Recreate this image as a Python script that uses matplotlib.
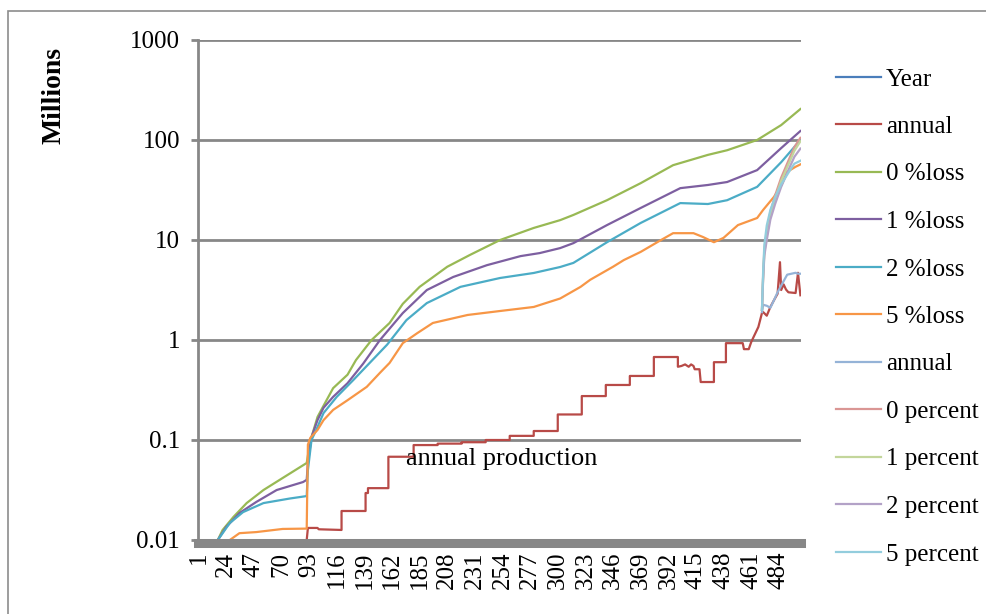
import matplotlib
matplotlib.use('Agg')
from matplotlib import pyplot as plt
from matplotlib.patches import Rectangle
from matplotlib.ticker import NullLocator

plt.rcParams['font.family'] = ['Liberation Serif', 'DejaVu Serif']

## Data (category index 1..502, values in millions)
n_cat = 502
tick_pos = [1, 24, 47, 70, 93, 116, 139, 162, 185, 208, 231, 254, 277, 300,
            323, 346, 369, 392, 415, 438, 461, 484]
tick_labels = ['1', '24', '47', '70', '93', '116', '139', '162', '185', '208',
               '231', '254', '277', '300', '323', '346', '369', '392', '415',
               '438', '461', '484']
y_ticks = [0.01, 0.1, 1, 10, 100, 1000]
y_labels = ['0.01', '0.1', '1', '10', '100', '1000']

annual_x = [91, 92, 100, 101, 120, 120, 140, 140, 142, 142, 159, 159, 180, 180,
            200, 200, 220, 220, 240, 240, 260, 260, 280, 280, 300, 300, 320, 320,
            340, 340, 360, 360, 380, 380, 400, 400, 403, 406, 409, 411, 413, 414,
            418, 419, 430, 430, 440, 440, 454, 455, 459, 461, 463, 467, 470, 471,
            474, 477, 480, 483, 485, 486, 488, 490, 492, 498, 500, 502]
annual_y = [0.01, 0.0132, 0.0132, 0.0128, 0.0126, 0.0195, 0.0195, 0.0295, 0.0295,
            0.033, 0.033, 0.068, 0.068, 0.089, 0.089, 0.092, 0.092, 0.095, 0.095,
            0.1, 0.1, 0.11, 0.11, 0.123, 0.123, 0.18, 0.18, 0.275, 0.275, 0.355,
            0.355, 0.437, 0.437, 0.676, 0.676, 0.54, 0.55, 0.57, 0.54, 0.57, 0.55,
            0.51, 0.51, 0.38, 0.38, 0.6, 0.6, 0.93, 0.93, 0.81, 0.81, 0.95, 1.07,
            1.35, 1.86, 1.9, 1.75, 2.14, 2.5, 2.9, 6.0, 3.16, 3.6, 3.2, 3.0, 2.95,
            4.7, 2.8]

loss0_x = [17, 21, 30, 41, 55, 71, 91, 92, 95, 100, 105, 113, 125, 132, 145, 160,
           171, 185, 208, 227, 252, 280, 302, 313, 341, 369, 396, 425, 441, 466,
           486, 502]
loss0_y = [0.01, 0.0126, 0.017, 0.0234, 0.0316, 0.0417, 0.0589, 0.07, 0.107, 0.17,
           0.22, 0.33, 0.45, 0.63, 1.0, 1.48, 2.3, 3.4, 5.4, 7.1, 10, 13.2, 15.8,
           17.8, 25, 37, 56, 71, 79, 100, 141, 204]

loss1_x = [17, 24, 35, 49, 66, 88, 91, 92, 95, 100, 105, 113, 125, 138, 152, 171,
           191, 213, 241, 269, 285, 302, 313, 341, 369, 402, 425, 441, 466, 486, 502]
loss1_y = [0.01, 0.0135, 0.0186, 0.024, 0.0316, 0.038, 0.04, 0.059, 0.107, 0.158,
           0.21, 0.27, 0.37, 0.58, 1.0, 1.86, 3.16, 4.27, 5.6, 6.9, 7.4, 8.3, 9.3,
           14.1, 20.9, 33, 35.5, 38, 50, 83, 123]

loss2_x = [17, 27, 38, 55, 77, 91, 92, 95, 100, 105, 116, 130, 144, 158, 174, 191,
           219, 252, 280, 302, 313, 341, 369, 402, 425, 441, 466, 486, 502]
loss2_y = [0.01, 0.0148, 0.019, 0.0234, 0.026, 0.0275, 0.05, 0.1, 0.135, 0.186,
           0.27, 0.4, 0.6, 0.9, 1.58, 2.34, 3.4, 4.17, 4.68, 5.37, 5.9, 9.5, 14.8,
           23.4, 22.9, 25, 34, 60, 100]

loss5_x = [27, 35, 49, 71, 91, 92, 94, 100, 105, 113, 125, 141, 152, 160, 171, 183,
           196, 225, 252, 280, 302, 319, 327, 346, 355, 369, 386, 396, 413, 421,
           430, 438, 450, 466, 471, 480, 486, 491, 498, 502]
loss5_y = [0.01, 0.0117, 0.012, 0.0129, 0.013, 0.09, 0.105, 0.126, 0.158, 0.2, 0.25,
           0.34, 0.47, 0.59, 0.93, 1.17, 1.48, 1.78, 1.95, 2.14, 2.6, 3.4, 4.0, 5.4,
           6.3, 7.6, 10, 11.7, 11.7, 10.7, 9.5, 10.5, 14.1, 16.6, 20, 27, 35, 48,
           54, 57]

annual2_x = [470, 471, 474, 477, 480, 483, 486, 491, 498, 500, 502]
annual2_y = [1.9, 2.25, 2.2, 2.1, 2.5, 3.0, 3.5, 4.5, 4.7, 4.6, 4.6]

pct_x = [470, 471, 472, 474, 477, 481, 486, 492, 497, 502]
pct0_y = [2.0, 4.5, 8, 12, 19, 28, 42, 62, 85, 105]
pct1_y = [2.0, 4.3, 7.5, 11, 17.5, 26, 39, 57, 78, 97]
pct2_y = [2.0, 4.1, 7, 10, 16, 23, 34, 50, 68, 82]
pct5_y = [2.0, 5, 9, 14, 20, 27, 36, 47, 58, 62]

## Figure
fig = plt.figure(figsize=(9.87, 6.14), dpi=100)
fig.patches.append(Rectangle((8 / 987, -0.1), 1.2, 1 - 11 / 614 + 0.1,
                             transform=fig.transFigure, fill=False,
                             edgecolor='#8c8c8c', lw=1.2))
ax = fig.add_axes([198 / 987, 1 - 540 / 614, 603 / 987, 500 / 614])

lw = 1.6
ax.plot([], [], color='#4A7EBB', lw=lw, label='Year')
ax.plot(annual_x, annual_y, color='#B84A47', lw=lw, label='annual')
ax.plot(loss0_x, loss0_y, color='#98B954', lw=lw, label='0 %loss')
ax.plot(loss1_x, loss1_y, color='#7D5FA0', lw=lw, label='1 %loss')
ax.plot(loss2_x, loss2_y, color='#4BACC6', lw=lw, label='2 %loss')
ax.plot(loss5_x, loss5_y, color='#F79646', lw=lw, label='5 %loss')
ax.plot(annual2_x, annual2_y, color='#95B3D7', lw=lw, label='annual')
ax.plot(pct_x, pct0_y, color='#DA9694', lw=lw, label='0 percent')
ax.plot(pct_x, pct1_y, color='#C3D69B', lw=lw, label='1 percent')
ax.plot(pct_x, pct2_y, color='#B3A2C7', lw=lw, label='2 percent')
ax.plot(pct_x, pct5_y, color='#93CDDD', lw=lw, label='5 percent')

ax.set_yscale('log')
ax.set_ylim(0.01, 1000)
ax.set_xlim(0.5, n_cat + 0.5)
ax.set_yticks(y_ticks)
ax.set_yticklabels(y_labels)
ax.yaxis.set_minor_locator(NullLocator())
ax.set_xticks(tick_pos)
ax.set_xticklabels(tick_labels)

ax.set_axisbelow(True)
ax.yaxis.grid(True, color='#878787', lw=2)
ax.spines['top'].set_visible(False)
ax.spines['right'].set_visible(False)
ax.spines['left'].set_color('#878787')
ax.spines['left'].set_linewidth(2)
ax.spines['bottom'].set_color('#878787')
ax.spines['bottom'].set_linewidth(6.5)
ax.spines['bottom'].set_position(('outward', 2.5))
ax.tick_params(axis='y', length=5, width=2, color='#878787', labelsize=18, pad=8)
ax.tick_params(axis='x', length=0, labelsize=18, pad=6, labelrotation=90)

ax.set_ylabel('Millions', fontsize=20, fontweight='bold', labelpad=0)
ax.yaxis.set_label_coords(-0.218, 0.89)

ax.text(0.345, 0.162, 'annual production', transform=ax.transAxes,
        fontsize=19, va='center')

fig.legend(loc='upper left', bbox_to_anchor=(836 / 987, 1 - 68 / 614),
           bbox_transform=fig.transFigure, frameon=False, fontsize=18,
           handlelength=1.8, handletextpad=0.2, labelspacing=1.0,
           borderpad=0, borderaxespad=0)

plt.savefig('out.png', dpi=100)
